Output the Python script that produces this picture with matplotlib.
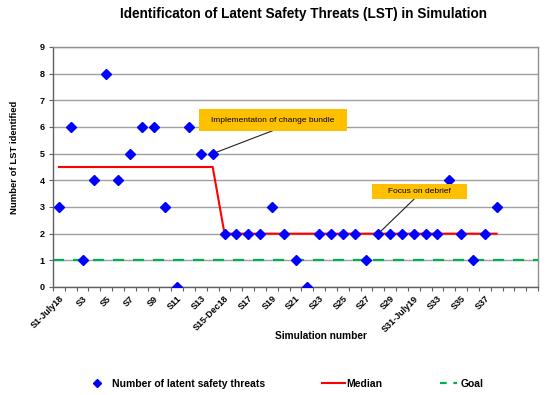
import matplotlib
matplotlib.use("Agg")
import matplotlib.pyplot as plt
from matplotlib.lines import Line2D

plt.rcParams['font.family'] = ['Liberation Sans', 'DejaVu Sans']

# ---- data ----
sim_labels = ["S1-July18", "S2", "S3", "S4", "S5", "S6", "S7", "S8", "S9", "S10",
              "S11", "S12", "S13", "S14", "S15-Dec18", "S16", "S17", "S18", "S19", "S20",
              "S21", "S22", "S23", "S24", "S25", "S26", "S27", "S28", "S29", "S30",
              "S31-July19", "S32", "S33", "S34", "S35", "S36", "S37", "S38"]
lst_counts = [3, 6, 1, 4, 8, 4, 5, 6, 6, 3,
              0, 6, 5, 5, 2, 2, 2, 2, 3, 2,
              1, 0, 2, 2, 2, 2, 1, 2, 2, 2,
              2, 2, 2, 4, 2, 1, 2, 3]
median_vals = [4.5] * 14 + [2] * 24
goal_value = 1
extra_slots = ["", "", ""]
all_slots = sim_labels + extra_slots

title = "Identificaton of Latent Safety Threats (LST) in Simulation"
ann1 = "Implementaton of change bundle"
ann2 = "Focus on debrief"
legend_labels = ["Number of latent safety threats", "Median", "Goal"]

# ---- figure ----
fig = plt.figure(figsize=(5.5, 3.95), dpi=100)
ax = fig.add_axes([53/550, 1 - 287/395, (538-53)/550, (287-47)/395])

x = list(range(len(sim_labels)))
n = len(all_slots)

ax.set_xlim(-0.5, n - 0.5)
ax.set_ylim(0, 9)
ax.set_yticks(range(0, 10))
ax.yaxis.grid(True, color='#a0a0a0', lw=1.0)
ax.set_axisbelow(True)

ax.axhline(goal_value, color='#00B050', lw=1.6, ls=(0, (5, 4)), zorder=2)
ax.plot(x, median_vals, color='#FF0000', lw=1.5, zorder=3)
ax.plot(x, lst_counts, ls='none', marker='D', ms=4.6, color='#0000FF', zorder=4)

# ticks
ax.set_xticks([i - 0.5 for i in range(n + 1)])
ax.set_xticklabels([])
ax.tick_params(axis='x', which='major', length=3, color='#606060', direction='out')
ax.set_xticks(list(range(0, len(sim_labels), 2)), minor=True)
ax.set_xticklabels([all_slots[i] for i in range(0, len(sim_labels), 2)], minor=True,
                   rotation=45, ha='right', rotation_mode='anchor',
                   fontsize=6.5, fontweight='bold')
ax.tick_params(axis='x', which='minor', length=0, pad=5)
ax.tick_params(axis='y', length=3, labelsize=6.5, color='#606060', pad=3)
for lab in ax.get_yticklabels():
    lab.set_fontweight('bold')

for side in ['top', 'right']:
    ax.spines[side].set_color('#909090')
for side in ['left', 'bottom']:
    ax.spines[side].set_color('#606060')
for s in ax.spines.values():
    s.set_linewidth(1.0)

ax.set_ylabel("Number of LST identified", fontsize=6.8, fontweight='bold')
ax.yaxis.set_label_coords((19 - 53) / 485, (287 - 157.5) / 240)
fig.text(321/550, 1 - 336/395, "Simulation number", fontsize=7.3, fontweight='bold',
         ha='center', va='center')
fig.text(303/550, 1 - 14/395, title, fontsize=9.8, fontweight='bold',
         ha='center', va='center')

# annotations
ax.annotate(ann1, xy=(13, lst_counts[13]), xytext=(18.1, 6.26),
            fontsize=6, ha='center', va='center',
            bbox=dict(boxstyle='square,pad=1.5', mutation_aspect=0.6,
                      fc='#FFC000', ec='none'),
            arrowprops=dict(arrowstyle='-', color='#202020', lw=0.8, patchA=None,
                            relpos=(0.5, -1.0), shrinkA=0, shrinkB=2),
            zorder=5)
ax.annotate(ann2, xy=(27, lst_counts[27]), xytext=(30.5, 3.58),
            fontsize=6, ha='center', va='center',
            bbox=dict(boxstyle='square,pad=1.9', mutation_aspect=0.27,
                      fc='#FFC000', ec='none'),
            arrowprops=dict(arrowstyle='-', color='#202020', lw=0.8, patchA=None,
                            relpos=(0.42, -0.5), shrinkA=0, shrinkB=2),
            zorder=5)

# legend: three entries placed individually
leg_y = 1 - 384/395
entries = [
    (Line2D([], [], ls='none', marker='D', ms=4, color='#0000FF'), legend_labels[0],
     92/550, 1.0, 0.9),
    (Line2D([], [], color='#FF0000', lw=1.5), legend_labels[1], 322/550, 2.2, 0.1),
    (Line2D([], [], color='#00B050', lw=1.6, ls=(0, (3, 3))), legend_labels[2],
     440/550, 1.65, 0.3),
]
for h, lab, xa, hl, htp in entries:
    fig.legend([h], [lab], loc='center left', bbox_to_anchor=(xa, leg_y),
               frameon=False, prop=dict(size=7.5, weight='bold'),
               borderpad=0, borderaxespad=0, handlelength=hl, handletextpad=htp)

fig.savefig("out.png", dpi=100)
